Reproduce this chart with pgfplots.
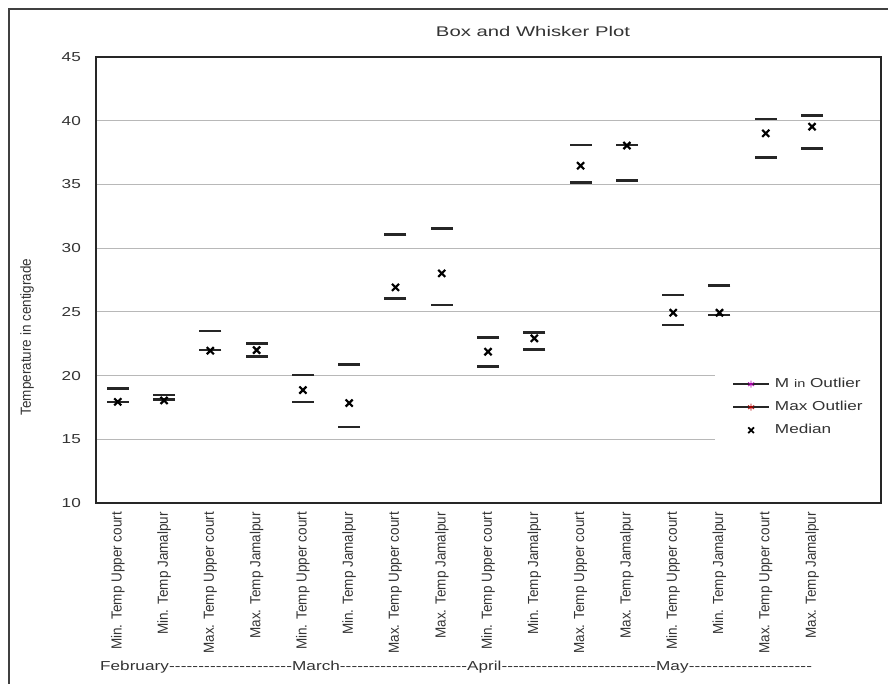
\documentclass[border=0pt]{standalone}
\usepackage{pgfplots}
\pgfplotsset{compat=1.18}
\usepackage{pgfplotstable}
\usepackage{fontspec}
\setmainfont{Liberation Sans}
\usepackage{graphicx}

\newcommand{\sx}[2][1.32]{\scalebox{#1}[1]{#2}}
\newcommand{\rl}[1]{\scalebox{1.08}[1]{\rotatebox{90}{#1}}}
\newcommand{\dfill}{\xleaders\hbox{\sx{-}}\hfill}

\pgfplotstableread{
x  lo     hi     med
1  17.94  18.99  17.94
2  18.13  18.47  18.05
3  22.00  23.50  21.95
4  21.50  22.53  22.00
5  17.94  20.04  18.86
6  15.96  20.85  17.84
7  26.06  31.08  26.92
8  25.53  31.55  28.02
9  20.69  23.00  21.87
10 22.06  23.39  22.92
11 35.13  38.09  36.47
12 35.30  38.09  38.05
13 23.96  26.32  24.93
14 24.75  27.05  24.93
15 37.10  40.13  39.01
16 37.83  40.39  39.53
}\data

\begin{document}
\begin{tikzpicture}[x=1pt,y=1pt]
\useasboundingbox (0,0) rectangle (888,684);
\draw[line width=2pt, black!75] (8.5,-5) -- (8.5,675) -- (895,675);
\node[text=black!80] at (533,652) {\fontsize{14}{16}\selectfont\sx[1.45]{Box and Whisker Plot}};
\node[text=black!80] at (27,347) {\fontsize{13.5}{15}\selectfont\scalebox{1.08}[1]{\rotatebox{90}{Temperature in centigrade}}};
\begin{axis}[
  at={(96pt,181pt)}, anchor=south west,
  width=785pt, height=446pt, scale only axis,
  xmin=0.53, xmax=17.49, ymin=10, ymax=45,
  ytick={10,15,...,45},
  yticklabels={\sx{10},\sx{15},\sx{20},\sx{25},\sx{30},\sx{35},\sx{40},\sx{45}},
  xtick={1,...,16},
  xticklabels={\rl{Min. Temp Upper court},\rl{Min. Temp Jamalpur},\rl{Max. Temp Upper court},\rl{Max. Temp Jamalpur},
               \rl{Min. Temp Upper court},\rl{Min. Temp Jamalpur},\rl{Max. Temp Upper court},\rl{Max. Temp Jamalpur},
               \rl{Min. Temp Upper court},\rl{Min. Temp Jamalpur},\rl{Max. Temp Upper court},\rl{Max. Temp Jamalpur},
               \rl{Min. Temp Upper court},\rl{Min. Temp Jamalpur},\rl{Max. Temp Upper court},\rl{Max. Temp Jamalpur}},
  ymajorgrids, grid style={black!28, line width=1pt},
  major tick length=0pt,
  axis line style={black!85, line width=1.8pt},
  tick label style={text=black!80},
  yticklabel style={font=\fontsize{13}{15}\selectfont, anchor=east, inner sep=0pt, xshift=-15pt},
  xticklabel style={font=\fontsize{13.5}{15}\selectfont, anchor=north, inner sep=0pt, yshift=-9pt},
  legend style={at={(0.7885,0.297)}, anchor=north west, draw=none, fill=white,
    inner xsep=17pt, inner ysep=7pt, row sep=10pt, column sep=5pt,
    font=\fontsize{13}{15}\selectfont, text=black!80,
    nodes={inner sep=0pt, text height=10pt, text depth=3pt}},
  legend cell align=left,
]
\addplot[only marks, mark=-, mark size=11pt, mark options={line width=2.6pt, black!85}, forget plot] table[x=x, y=lo] {\data};
\addplot[only marks, mark=-, mark size=11pt, mark options={line width=2.6pt, black!85}, forget plot] table[x=x, y=hi] {\data};
\addplot[only marks, mark=x, mark size=5pt, mark options={line width=2.2pt, black}, forget plot] table[x=x, y=med] {\data};

\addlegendimage{legend image code/.code={
  \draw[black!85, line width=1.8pt] (0pt,0pt) -- (36pt,0pt);
  \draw[violet!60!magenta, line width=0.7pt] plot[mark=asterisk, mark size=3.5pt] coordinates {(18pt,0pt)};}}
\addlegendentry{\sx{M {\fontsize{11}{13}\selectfont in} Outlier}}
\addlegendimage{legend image code/.code={
  \draw[black!85, line width=1.8pt] (0pt,0pt) -- (36pt,0pt);
  \draw[red!70!black, line width=0.7pt] plot[mark=asterisk, mark size=3.5pt] coordinates {(18pt,0pt)};}}
\addlegendentry{\sx{Max Outlier}}
\addlegendimage{legend image code/.code={
  \path[draw=none] (0pt,0pt) -- (36pt,0pt);
  \draw[black, line width=1.8pt] plot[mark=x, mark size=4pt] coordinates {(18pt,0pt)};}}
\addlegendentry{\sx{Median}}
\end{axis}
\node[anchor=base west, inner sep=0pt, text=black!80] at (100,13) {\fontsize{13}{15}\selectfont
  \makebox[192pt][l]{\sx{February}\dfill}%
  \makebox[175pt][l]{\sx{March}\dfill}%
  \makebox[189pt][l]{\sx{April}\dfill}%
  \makebox[156pt][l]{\sx{May}\dfill}};
\end{tikzpicture}
\end{document}
